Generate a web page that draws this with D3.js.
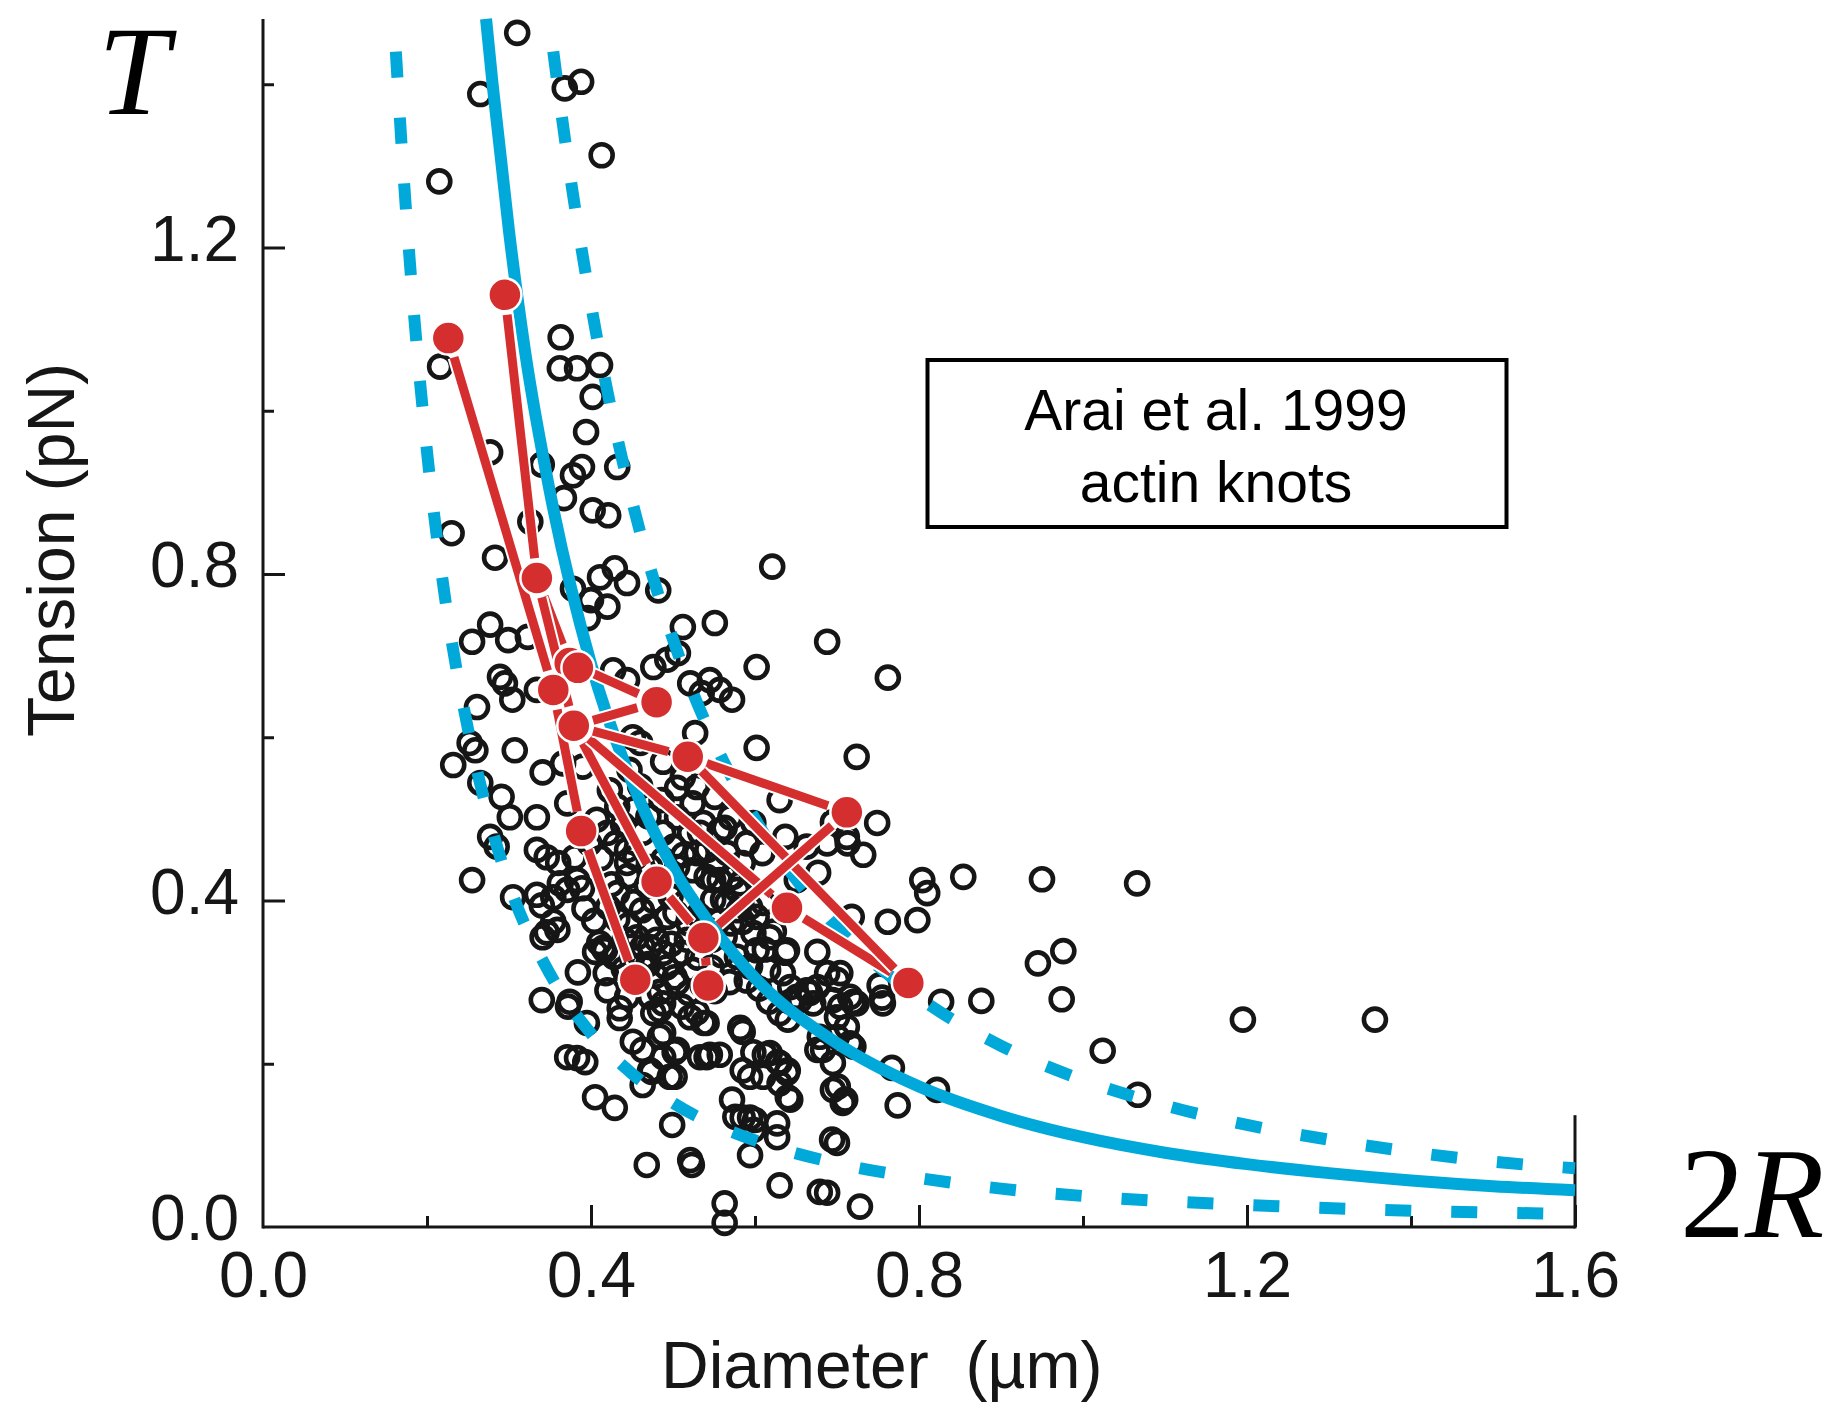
<!DOCTYPE html>
<html>
<head>
<meta charset="utf-8">
<script src="https://cdn.jsdelivr.net/npm/d3@7"></script>
<style>
  body { margin: 0; background: #fff; }
  svg { display: block; background: #fff; }
</style>
</head>
<body>
<svg id="chart" width="1834" height="1404"></svg>
<script>
// Arai et al. 1999 actin knots: [diameter (um), tension (pN)]
const araiKnots = [
  [0.310,1.463],[0.265,1.388],[0.368,1.395],[0.388,1.403],[0.413,1.313],[0.215,1.281],
  [0.363,1.090],[0.216,1.054],[0.362,1.052],[0.383,1.052],[0.411,1.056],[0.402,1.017],[0.394,0.974],
  [0.277,0.949],[0.340,0.934],[0.389,0.931],[0.378,0.921],[0.432,0.931],[0.367,0.893],[0.402,0.878],[0.421,0.872],
  [0.230,0.850],[0.326,0.864],[0.283,0.820],[0.411,0.796],[0.429,0.807],[0.444,0.789],[0.420,0.760],[0.482,0.780],[0.621,0.809],
  [0.378,0.782],[0.396,0.746],[0.277,0.738],[0.255,0.717],[0.299,0.719],[0.323,0.723],[0.512,0.735],[0.551,0.740],[0.688,0.717],[0.602,0.686],[0.762,0.673],
  [0.289,0.674],[0.295,0.666],[0.304,0.646],[0.334,0.658],[0.427,0.682],[0.444,0.670],[0.476,0.686],[0.493,0.695],[0.506,0.703],[0.521,0.666],[0.545,0.670],[0.557,0.658],[0.572,0.646],[0.535,0.654],
  [0.261,0.637],[0.252,0.593],[0.259,0.584],[0.307,0.584],[0.232,0.566],[0.265,0.544],[0.291,0.527],[0.341,0.557],[0.366,0.568],
  [0.301,0.502],[0.334,0.502],[0.371,0.519],[0.277,0.478],[0.285,0.466],[0.255,0.425],[0.305,0.404],[0.346,0.361],
  [0.451,0.600],[0.460,0.593],[0.488,0.570],[0.527,0.605],[0.602,0.587],[0.724,0.576],[0.630,0.523],[0.637,0.478],[0.749,0.495],[0.732,0.456],[0.712,0.478],[0.762,0.374],[0.718,0.380],
  [0.505,0.538],[0.524,0.519],[0.551,0.527],[0.570,0.502],[0.598,0.495],[0.557,0.486],[0.533,0.483],[0.590,0.470],[0.609,0.458],[0.663,0.466],[0.651,0.425],[0.677,0.434],[0.573,0.429],[0.549,0.425],
  [0.390,0.564],[0.334,0.462],[0.346,0.453],[0.512,0.551],[0.529,0.539],[0.423,0.535],[0.432,0.515],[0.407,0.499],[0.420,0.483],[0.444,0.462],[0.463,0.483],[0.488,0.483],[0.505,0.502],[0.521,0.483],[0.529,0.458],[0.537,0.495],[0.488,0.450],[0.505,0.441],[0.472,0.441],[0.563,0.489],
  [0.695,0.496],[0.713,0.470],[0.688,0.470],[0.854,0.429],[0.804,0.425],[0.950,0.426],[1.066,0.421],[0.976,0.338],[0.945,0.323],[0.974,0.279],[0.876,0.277],[1.195,0.254],[1.356,0.254],[1.024,0.216],[1.067,0.162],
  [0.810,0.409],[0.798,0.376],[0.827,0.276],[0.822,0.168],[0.774,0.149],[0.767,0.195],[0.755,0.281],[0.752,0.296],[0.720,0.276],[0.700,0.303],[0.704,0.311],[0.688,0.311],[0.676,0.337],[0.637,0.336],[0.618,0.355],[0.585,0.374],[0.602,0.380],[0.549,0.401],[0.566,0.397],[0.582,0.421],[0.541,0.429],[0.557,0.425],
  [0.667,0.287],[0.655,0.278],[0.643,0.276],[0.676,0.294],[0.630,0.262],[0.640,0.254],[0.695,0.278],[0.704,0.270],[0.700,0.257],[0.712,0.245],[0.724,0.274],
  [0.541,0.250],[0.582,0.244],[0.545,0.211],[0.557,0.211],[0.598,0.214],[0.612,0.211],[0.628,0.202],[0.640,0.192],[0.585,0.192],[0.594,0.184],[0.610,0.184],[0.676,0.217],[0.695,0.201],[0.720,0.221],[0.701,0.172],[0.710,0.156],[0.640,0.159],[0.572,0.156],[0.585,0.134],[0.600,0.131],[0.627,0.127],[0.627,0.110],[0.594,0.088],[0.694,0.107],[0.700,0.103],[0.630,0.051],[0.679,0.043],[0.688,0.042],[0.728,0.025],[0.563,0.029],[0.563,0.005],
  [0.334,0.407],[0.340,0.394],[0.354,0.404],[0.362,0.421],[0.371,0.413],[0.389,0.415],[0.383,0.425],[0.341,0.355],[0.405,0.337],[0.415,0.342],[0.340,0.278],[0.374,0.276],[0.372,0.270],[0.384,0.312],[0.395,0.250],[0.420,0.290],[0.435,0.268],[0.435,0.256],[0.371,0.208],[0.383,0.207],[0.393,0.202],[0.405,0.159],[0.429,0.146],
  [0.463,0.217],[0.472,0.192],[0.463,0.174],[0.488,0.238],[0.502,0.214],[0.502,0.184],[0.488,0.208],[0.456,0.355],[0.463,0.343],[0.480,0.352],[0.488,0.336],[0.472,0.282],[0.488,0.274],[0.476,0.262],[0.505,0.299],[0.524,0.315],[0.521,0.257],[0.537,0.250],[0.541,0.208],[0.499,0.125],[0.468,0.076],[0.521,0.082],[0.523,0.076],
  [0.410,0.348],[0.446,0.370],[0.440,0.316],[0.462,0.321],[0.484,0.288],[0.360,0.446],[0.380,0.453],[0.359,0.364],[0.354,0.374],[0.417,0.339],[0.421,0.392],[0.432,0.409],[0.444,0.446],[0.454,0.453],[0.462,0.388],[0.472,0.368],[0.493,0.380],[0.472,0.343],[0.502,0.306],[0.511,0.336],[0.511,0.270],[0.529,0.263],[0.484,0.266],[0.444,0.282],[0.451,0.227],[0.484,0.233],[0.505,0.217],[0.474,0.190],[0.496,0.184],[0.533,0.208],[0.585,0.239],[0.618,0.213],[0.630,0.201],[0.639,0.189],[0.630,0.176],[0.643,0.156],[0.576,0.135],[0.594,0.134],[0.598,0.119],
  [0.554,0.446],[0.570,0.429],[0.585,0.446],[0.524,0.437],[0.561,0.401],[0.578,0.413],[0.594,0.392],[0.610,0.397],[0.639,0.339],[0.602,0.339],[0.578,0.331],[0.594,0.319],[0.616,0.315],[0.634,0.311],[0.643,0.294],[0.651,0.282],[0.663,0.290],[0.671,0.274],[0.716,0.282],[0.679,0.233],[0.700,0.233],[0.716,0.225],[0.683,0.217],[0.695,0.168],[0.707,0.152],[0.756,0.274],[0.400,0.768],
  // the dark core of the cloud
  [0.430,0.470],[0.445,0.430],[0.452,0.398],[0.468,0.418],[0.476,0.400],[0.483,0.420],[0.497,0.405],[0.503,0.385],[0.515,0.398],[0.519,0.372],[0.531,0.382],[0.540,0.366],[0.548,0.352],[0.556,0.375],[0.563,0.356],[0.571,0.372],
  [0.432,0.377],[0.441,0.352],[0.450,0.330],[0.458,0.309],[0.470,0.322],[0.479,0.308],[0.492,0.318],[0.498,0.347],[0.517,0.352],[0.530,0.330],[0.547,0.318],[0.559,0.333],[0.569,0.300],[0.551,0.289],[0.536,0.296],[0.519,0.287],
  [0.428,0.331],[0.418,0.311],[0.404,0.375],[0.392,0.390],[0.412,0.452],[0.398,0.470],[0.425,0.420],[0.439,0.493],[0.453,0.512],[0.470,0.503],[0.486,0.523],[0.460,0.540],[0.447,0.560],[0.501,0.466],[0.513,0.456],[0.542,0.462],
  [0.553,0.444],[0.566,0.458],[0.580,0.388],[0.598,0.360],[0.612,0.340],[0.623,0.362],[0.590,0.302],[0.605,0.292],[0.617,0.276]
];

// red knots followed while tension changes
const trackedKnots = [
  [0.226,1.089],[0.295,1.142],[0.334,0.795],[0.374,0.691],[0.384,0.685],[0.354,0.658],
  [0.379,0.614],[0.480,0.643],[0.518,0.576],[0.712,0.508],[0.388,0.485],[0.480,0.423],
  [0.639,0.391],[0.537,0.354],[0.454,0.303],[0.543,0.296],[0.787,0.299]
];
// pairs of indices into trackedKnots
const trackedLinks = [
  [1,2],[2,3],[2,6],[0,5],[3,7],[7,6],[5,10],[10,14],[6,11],[6,12],
  [11,13],[13,15],[12,16],[8,9],[8,16],[9,13],[6,8]
];

// fitted curve and its bounds, read at a few diameters
const fitCurve = [
  [0.272,1.48],[0.28,1.40],[0.30,1.22],[0.32,1.07],[0.35,0.90],[0.40,0.69],[0.45,0.545],
  [0.50,0.44],[0.55,0.365],[0.60,0.305],[0.70,0.225],[0.80,0.172],[0.90,0.136],[1.00,0.110],
  [1.10,0.091],[1.20,0.077],[1.30,0.066],[1.40,0.057],[1.50,0.050],[1.60,0.045]
];
const upperCurve = [
  [0.354,1.44],[0.37,1.32],[0.40,1.13],[0.45,0.89],[0.50,0.72],[0.55,0.595],[0.60,0.50],
  [0.70,0.367],[0.80,0.281],[0.90,0.222],[1.00,0.180],[1.10,0.149],[1.20,0.125],[1.30,0.107],
  [1.40,0.092],[1.50,0.080],[1.60,0.072]
];
const lowerCurve = [
  [0.162,1.44],[0.17,1.31],[0.18,1.17],[0.20,0.95],[0.22,0.785],[0.25,0.61],[0.28,0.485],
  [0.30,0.42],[0.35,0.31],[0.40,0.237],[0.45,0.188],[0.50,0.152],[0.60,0.106],[0.70,0.078],
  [0.80,0.060],[0.90,0.047],[1.00,0.038],[1.20,0.027],[1.40,0.020],[1.60,0.016]
];

const xMajor = [0, 0.4, 0.8, 1.2, 1.6];
const xMinor = [0.2, 0.6, 1.0, 1.4];
const yMajor = [0, 0.4, 0.8, 1.2];
const yMinor = [0.2, 0.6, 1.0, 1.4];
const legendLines = ['Arai et al. 1999', 'actin knots'];

const BLUE = '#00a9d9';
const RED = '#d42e2e';
const INK = '#161616';
const SANS = "'Liberation Sans', Arial, Helvetica, sans-serif";
const SERIF = "'Liberation Serif', 'Times New Roman', serif";

const svg = d3.select('#chart');

const x = d3.scaleLinear().domain([0, 1.6]).range([263, 1575]);
const y = d3.scaleLinear().domain([0, 1.2]).range([1227, 247.5]);

// --- axes -----------------------------------------------------------
function styleAxis(g) {
  g.select('.domain').remove();
  g.selectAll('.tick line').attr('stroke', INK).attr('stroke-width', 3);
  g.selectAll('.tick text')
    .attr('fill', INK)
    .style('font-family', SANS)
    .style('font-size', '64px');
}

svg.append('g')
  .attr('transform', `translate(0,${y(0)})`)
  .call(d3.axisBottom(x).tickValues(xMajor.slice(1)).tickSize(-22).tickFormat(''))
  .call(styleAxis);
svg.append('g')
  .attr('transform', `translate(0,${y(0)})`)
  .call(d3.axisBottom(x).tickValues(xMinor).tickSize(-11).tickFormat(''))
  .call(styleAxis);
// labels only, ticks drawn above
svg.append('g')
  .attr('transform', `translate(0,${y(0)})`)
  .call(d3.axisBottom(x).tickValues(xMajor).tickSize(0).tickPadding(25).tickFormat(d3.format('.1f')))
  .call(styleAxis);

svg.append('g')
  .attr('transform', `translate(${x(0)},0)`)
  .call(d3.axisLeft(y).tickValues(yMajor.slice(1)).tickSize(-22).tickFormat(''))
  .call(styleAxis);
svg.append('g')
  .attr('transform', `translate(${x(0)},0)`)
  .call(d3.axisLeft(y).tickValues(yMinor).tickSize(-11).tickFormat(''))
  .call(styleAxis);
svg.append('g')
  .attr('transform', `translate(${x(0)},0)`)
  .call(d3.axisLeft(y).tickValues(yMajor).tickSize(0).tickPadding(24).tickFormat(d3.format('.1f')))
  .call(styleAxis)
  .selectAll('.tick text').attr('dy', '0.2em');

// axis lines
svg.append('line')
  .attr('x1', x(0)).attr('x2', x(0))
  .attr('y1', y(0) + 1.5).attr('y2', y(1.48))
  .attr('stroke', INK).attr('stroke-width', 3);
svg.append('line')
  .attr('x1', x(0)).attr('x2', x(1.6))
  .attr('y1', y(0)).attr('y2', y(0))
  .attr('stroke', INK).attr('stroke-width', 3);
svg.append('line')
  .attr('x1', x(1.6)).attr('x2', x(1.6))
  .attr('y1', y(0) + 1.5).attr('y2', y(0.137))
  .attr('stroke', INK).attr('stroke-width', 3);

// titles
svg.append('text')
  .attr('x', 661).attr('y', 1388)
  .style('font-family', SANS).style('font-size', '66px')
  .attr('fill', INK)
  .attr('xml:space', 'preserve')
  .text('Diameter  (\u00b5m)');

svg.append('text')
  .attr('transform', 'translate(74,550) rotate(-90)')
  .attr('text-anchor', 'middle')
  .style('font-family', SANS).style('font-size', '66px')
  .attr('fill', INK)
  .text('Tension (pN)');

svg.append('text')
  .attr('x', 98).attr('y', 114)
  .style('font-family', SERIF).style('font-size', '128px').style('font-style', 'italic')
  .attr('fill', '#000')
  .text('T');

const twoR = svg.append('text')
  .attr('x', 1680).attr('y', 1237)
  .style('font-family', SERIF).style('font-size', '130px')
  .attr('fill', '#000');
twoR.append('tspan').text('2');
twoR.append('tspan').style('font-style', 'italic').text('R');

// --- data -----------------------------------------------------------
svg.append('g')
  .selectAll('circle')
  .data(araiKnots)
  .enter().append('circle')
    .attr('cx', (d) => x(d[0]))
    .attr('cy', (d) => y(d[1]))
    .attr('r', 11)
    .attr('fill', 'none')
    .attr('stroke', INK)
    .attr('stroke-width', 4.6);

const curveLine = d3.line()
  .x((d) => x(d[0]))
  .y((d) => y(d[1]))
  .curve(d3.curveMonotoneX);

[upperCurve, lowerCurve].forEach((c) => {
  svg.append('path')
    .attr('d', curveLine(c))
    .attr('fill', 'none')
    .attr('stroke', BLUE)
    .attr('stroke-width', 12)
    .attr('stroke-dasharray', '26,40');
});

svg.append('path')
  .attr('d', curveLine(fitCurve))
  .attr('fill', 'none')
  .attr('stroke', BLUE)
  .attr('stroke-width', 12);

// red tracks, each segment with a thin white casing, trimmed near the dots
const trim = 20;
const redG = svg.append('g');
trackedLinks.forEach(([a, b]) => {
  const x1 = x(trackedKnots[a][0]), y1 = y(trackedKnots[a][1]);
  const x2 = x(trackedKnots[b][0]), y2 = y(trackedKnots[b][1]);
  const len = Math.hypot(x2 - x1, y2 - y1);
  const ux = (x2 - x1) / len, uy = (y2 - y1) / len;
  const seg = [[x1 + ux * trim, y1 + uy * trim], [x2 - ux * trim, y2 - uy * trim]];
  redG.append('path')
    .attr('d', d3.line()(seg))
    .attr('stroke', '#fff').attr('stroke-width', 13);
  redG.append('path')
    .attr('d', d3.line()(seg))
    .attr('stroke', RED).attr('stroke-width', 9);
});

redG.selectAll('circle')
  .data(trackedKnots)
  .enter().append('circle')
    .attr('cx', (d) => x(d[0]))
    .attr('cy', (d) => y(d[1]))
    .attr('r', 16.5)
    .attr('fill', RED)
    .attr('stroke', '#fff')
    .attr('stroke-width', 2.5);

// --- legend box -----------------------------------------------------
svg.append('rect')
  .attr('x', 927.5).attr('y', 360)
  .attr('width', 579).attr('height', 167)
  .attr('fill', '#fff')
  .attr('stroke', '#000')
  .attr('stroke-width', 4);

svg.append('g')
  .selectAll('text')
  .data(legendLines)
  .enter().append('text')
    .attr('x', 1216)
    .attr('y', (d, i) => 430 + i * 72)
    .attr('text-anchor', 'middle')
    .style('font-family', SANS).style('font-size', '57px')
    .attr('fill', '#000')
    .text((d) => d);
</script>
</body>
</html>
